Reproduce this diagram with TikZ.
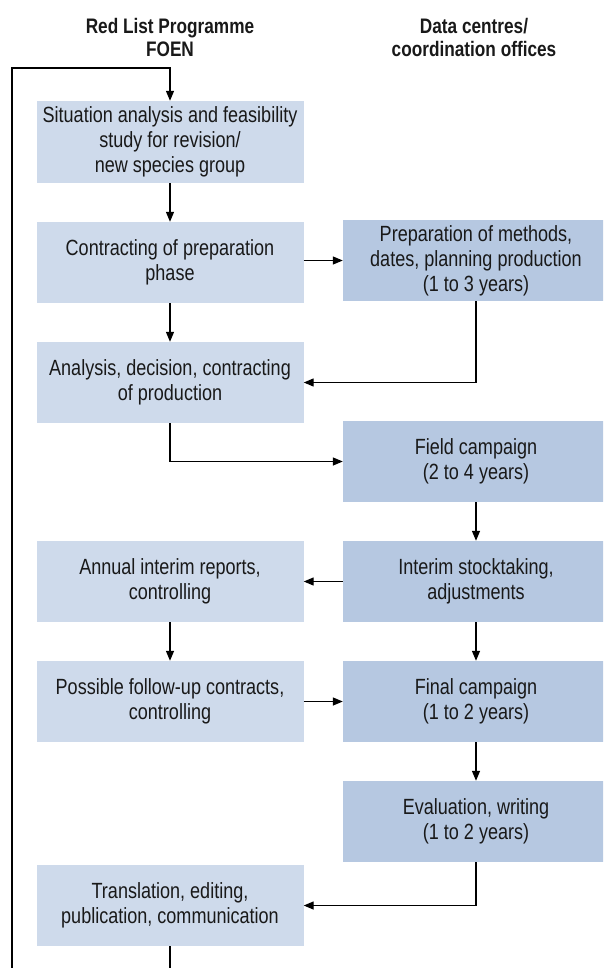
\documentclass[tikz,border=0pt]{standalone}
\usepackage{fontspec}
\setmainfont{Liberation Sans}[FakeStretch=0.82]
\usetikzlibrary{arrows.meta,positioning}
\definecolor{leftfill}{RGB}{206,218,235}
\definecolor{rightfill}{RGB}{182,200,225}
\definecolor{txt}{RGB}{25,25,25}
\begin{document}
\begin{tikzpicture}[x=1pt,y=-1pt,
  every node/.style={font=\fontsize{22}{25}\selectfont, text=txt},
  lbox/.style={rectangle, fill=leftfill, minimum width=267pt, minimum height=81pt, align=center, inner sep=0pt},
  rbox/.style={rectangle, fill=rightfill, minimum width=266pt, minimum height=81pt, align=center, inner sep=0pt},
  head/.style={align=center, font=\fontsize{21}{23}\selectfont\bfseries},
  arr/.style={-{Triangle[length=10pt,width=8pt]}, line width=1.3pt, draw=black}
]
\path[use as bounding box, clip] (0,0) rectangle (603,968);

\node[head] (h1) at (170,37) {Red List Programme\\FOEN};
\node[head] (h2) at (474,37) {Data centres/\\coordination offices};

\node[lbox, minimum height=82pt] (sit) at (170,142) {Situation analysis and feasibility\\study for revision/\\new species group};
\node[lbox] (contr) at (170,262.5) {Contracting of preparation\\phase};
\node[rbox] (prep) at (476,260.5) {Preparation of methods,\\dates, planning production\\(1 to 3 years)};
\node[lbox] (anal) at (170,382.5) {Analysis, decision, contracting\\of production};
\node[rbox] (field) at (476,461.5) {Field campaign\\(2 to 4 years)};
\node[lbox] (annual) at (170,581.5) {Annual interim reports,\\controlling};
\node[rbox] (interim) at (476,581.5) {Interim stocktaking,\\adjustments};
\node[lbox] (poss) at (170,701.5) {Possible follow-up contracts,\\controlling};
\node[rbox] (final) at (476,701.5) {Final campaign\\(1 to 2 years)};
\node[rbox] (eval) at (476,821.5) {Evaluation, writing\\(1 to 2 years)};
\node[lbox] (trans) at (170,905.5) {Translation, editing,\\publication, communication};

\coordinate (lb) at (12,1000);
\coordinate (lt) at (12,68);

\draw[arr] (trans.south) -- (trans.south |- lb) -- (lb) -- (lt) -- (lt -| sit.north) -- (sit.north);
\draw[arr] (sit) -- (contr);
\draw[arr] (prep.west -| contr.east) -- (prep.west);
\draw[arr] (contr) -- (anal);
\draw[arr] (prep.south) |- (anal.east);
\draw[arr] (anal.south) |- (field.west);
\draw[arr] (field) -- (interim);
\draw[arr] (interim) -- (annual);
\draw[arr] (annual) -- (poss);
\draw[arr] (poss) -- (final);
\draw[arr] (interim) -- (final);
\draw[arr] (final) -- (eval);
\draw[arr] (eval.south) |- (trans.east);
\end{tikzpicture}
\end{document}
